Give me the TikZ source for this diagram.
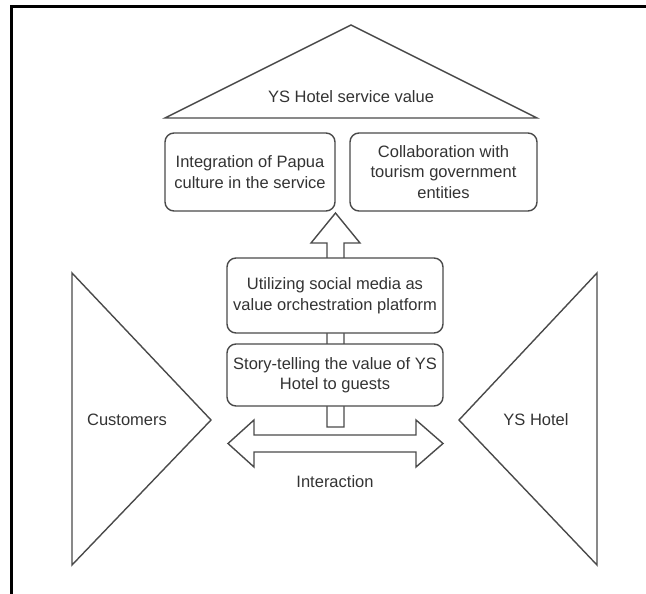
\documentclass[tikz,border=0pt]{standalone}
\usepackage{fontspec}
\setmainfont{Liberation Sans}
\definecolor{ln}{HTML}{4A4A4A}
\definecolor{tx}{HTML}{333333}
\begin{document}
\begin{tikzpicture}[x=1pt,y=-1pt,
  shape line/.style={draw=ln, line width=1.4pt, line join=miter},
  lbl/.style={text=tx, font=\fontsize{16.5}{20.5}\selectfont, align=center, inner sep=0pt},
  rbox/.style={shape line, fill=white, rounded corners=9pt, rectangle, align=center,
    text=tx, font=\fontsize{16.5}{20.5}\selectfont, inner sep=0pt}]
\useasboundingbox (0,0) rectangle (646,594);
% frame
\draw[line width=3pt, black] (11.5,594) -- (11.5,7) -- (646,7);
% roof
\coordinate (roofL) at (165,118);
\coordinate (roofT) at (351,25);
\coordinate (roofR) at (537,118);
\draw[shape line] (roofL) -- (roofT) -- (roofR) -- cycle;
\node[lbl] (roof) at (351,97) {YS Hotel service value};
% side triangles
\coordinate (cT) at (72,273); \coordinate (cB) at (72,565); \coordinate (cP) at (211,420);
\draw[shape line] (cT) -- (cP) -- (cB) -- cycle;
\node[lbl] (cust) at (127,420) {Customers};
\coordinate (hT) at (597,273); \coordinate (hB) at (597,565); \coordinate (hP) at (459,420);
\draw[shape line] (hT) -- (hP) -- (hB) -- cycle;
\node[lbl] (hotel) at (536,420) {YS Hotel};
% up arrow (hollow)
\draw[shape line, fill=white] (327,427) -- (327,243) -- (311,243) -- (335.5,213) -- (360,243) -- (344,243) -- (344,427) -- cycle;
% double arrow (hollow)
\draw[shape line, fill=white] (228,443.5) -- (254,420) -- (254,435) -- (416,435) -- (416,420) -- (443,443.5) -- (416,467) -- (416,452) -- (254,452) -- (254,467) -- cycle;
\node[lbl] (inter) at (335,482) {Interaction};
% boxes
\node[rbox, minimum width=170pt, minimum height=78pt] (papua) at (250,172) {Integration of Papua\\culture in the service};
\node[rbox, minimum width=187pt, minimum height=78pt] (gov) at (443.5,172) {Collaboration with\\tourism government\\entities};
\node[rbox, minimum width=216pt, minimum height=75pt] (social) at (335,295.5) {Utilizing social media as\\value orchestration platform};
\node[rbox, minimum width=216pt, minimum height=62pt] (story) at (335,375) {Story-telling the value of YS\\Hotel to guests};
\end{tikzpicture}
\end{document}
